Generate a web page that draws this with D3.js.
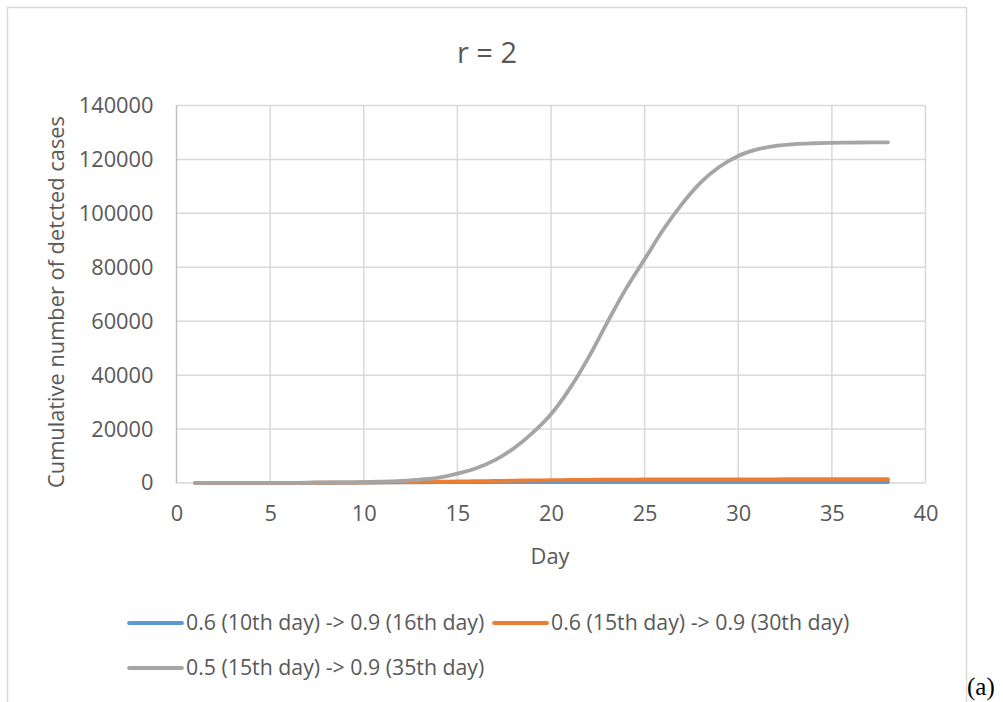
<!DOCTYPE html>
<html><head><meta charset="utf-8">
<script src="https://cdn.jsdelivr.net/npm/d3@7"></script>
<style>body{margin:0;background:#fff;} svg{display:block;}</style>
</head><body>
<svg id="c" width="1003" height="702"></svg>
<script>
const days = d3.range(1, 39);
const seriesNames = [
  "0.6 (10th day) -> 0.9 (16th day)",
  "0.6 (15th day) -> 0.9 (30th day)",
  "0.5 (15th day) -> 0.9 (35th day)"
];
const seriesColors = ["#5B9BD5", "#ED7D31", "#A5A5A5"];
const blueValues = [10,14,20,28,40,55,75,100,130,165,200,235,265,290,310,325,335,342,347,350,352,354,355,356,357,358,358,359,359,359,360,360,360,360,360,360,360,360];
const orangeValues = [10,14,20,28,40,55,75,100,135,180,235,300,380,470,570,670,770,870,960,1040,1110,1170,1220,1260,1290,1315,1335,1350,1360,1370,1375,1380,1383,1385,1387,1388,1389,1390];
const grayValues = [10,15,22,32,48,70,100,150,220,330,500,800,1250,2000,3500,5500,8500,12800,18500,25500,35000,46500,59500,72000,83000,94000,103500,111500,117300,121300,123700,125000,125700,126000,126150,126250,126300,126350];
const xTicks = [0,5,10,15,20,25,30,35,40];
const yTicks = [0,20000,40000,60000,80000,100000,120000,140000];
const titleText = "r = 2";
const xLabel = "Day";
const yLabel = "Cumulative number of detcted cases";

const svg = d3.select("#c");
const font = "'Open Sans', 'Noto Sans', sans-serif";
const textColor = "#595959";
const gridColor = "#D9D9D9";

// chart area border
svg.append("path").attr("d", "M7.5,720 V7.5 H966.5 V720")
  .attr("fill", "none").attr("stroke", gridColor).attr("stroke-width", 1.5);

const x = d3.scaleLinear().domain([0, 40]).range([176.5, 925.5]);
const y = d3.scaleLinear().domain([0, 140000]).range([483, 105.5]);

// gridlines
const g = svg.append("g");
g.selectAll("line.h").data(yTicks).join("line")
  .attr("x1", x(0)).attr("x2", x(40))
  .attr("y1", d => y(d)).attr("y2", d => y(d))
  .attr("stroke", gridColor).attr("stroke-width", 1.5);
g.selectAll("line.v").data(xTicks).join("line")
  .attr("y1", y(0)).attr("y2", y(140000))
  .attr("x1", d => x(d)).attr("x2", d => x(d))
  .attr("stroke", d => d === 0 ? "#BFBFBF" : gridColor).attr("stroke-width", 1.5);

// axes labels via d3 axes
const yAxis = svg.append("g").attr("transform", `translate(${x(0)},0)`)
  .call(d3.axisLeft(y).tickValues(yTicks).tickSize(0).tickPadding(23).tickFormat(d3.format("d")));
yAxis.select(".domain").remove();
yAxis.selectAll("text").attr("font-family", font).attr("font-size", 21.8).attr("fill", textColor);

const xAxis = svg.append("g").attr("transform", `translate(0,${y(0)})`)
  .call(d3.axisBottom(x).tickValues(xTicks).tickSize(0).tickPadding(23));
xAxis.select(".domain").remove();
xAxis.selectAll("text").attr("font-family", font).attr("font-size", 21.8).attr("fill", textColor);

// lines (Excel draws series in order; gray last, on top)
const allSeries = [blueValues, orangeValues, grayValues];
const line = d3.line().x((d, i) => x(days[i])).y(d => y(d)).curve(d3.curveMonotoneX);
[0, 1, 2].forEach(k => {
  svg.append("path").datum(allSeries[k]).attr("d", line)
    .attr("fill", "none").attr("stroke", seriesColors[k])
    .attr("stroke-width", 3.8).attr("stroke-linecap", "round");
});

// title
svg.append("text").attr("x", 487).attr("y", 63).attr("text-anchor", "middle")
  .attr("font-family", font).attr("font-size", 29).attr("fill", textColor).text(titleText);

// axis titles
svg.append("text").attr("x", 550).attr("y", 564).attr("text-anchor", "middle")
  .attr("font-family", font).attr("font-size", 21.8).attr("fill", textColor).text(xLabel);
svg.append("text").attr("transform", "translate(64,302) rotate(-90)").attr("text-anchor", "middle")
  .attr("font-family", font).attr("font-size", 21.8).attr("fill", textColor).text(yLabel);

// legend
const legendPos = [[129, 623], [494, 623], [129, 668]];
seriesNames.forEach((name, k) => {
  const [lx, ly] = legendPos[k];
  svg.append("line").attr("x1", lx).attr("x2", lx + 53).attr("y1", ly).attr("y2", ly)
    .attr("stroke", seriesColors[k]).attr("stroke-width", 3.8).attr("stroke-linecap", "round");
  svg.append("text").attr("x", lx + 57).attr("y", ly).attr("dy", "0.35em")
    .attr("font-family", font).attr("font-size", 21.3).attr("fill", textColor).text(name);
});

// panel label
svg.append("text").attr("x", 967).attr("y", 695).attr("font-family", "'Liberation Serif', serif")
  .attr("font-size", 25).attr("fill", "#000").text("(a)");
</script>
</body></html>
